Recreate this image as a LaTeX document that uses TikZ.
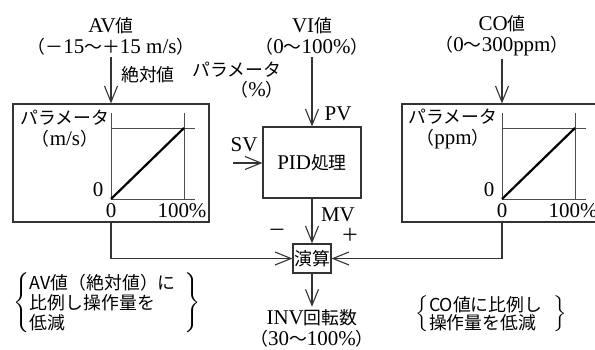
\documentclass[tikz,border=0pt]{standalone}
\usepackage{fontspec}
\setmainfont{Liberation Serif}[Scale=1.14]
\newfontfamily\jpfont{Noto Sans CJK JP}[Scale=0.97]
\newcommand{\jp}[1]{{\jpfont #1}}
\usetikzlibrary{arrows.meta,calc}
\tikzstyle{blk}=[draw=black!80,line width=0.55pt,inner sep=0pt]
\tikzstyle{lbl}=[inner sep=1pt,align=center]
\tikzstyle{sig}=[draw=black!80,line width=0.55pt,-{Straight Barb[length=8pt,width=6.5pt]}]
\tikzstyle{ax}=[draw=black!70,line width=0.5pt]

\begin{document}
\begin{tikzpicture}[x=0.5pt,y=-0.5pt,font=\fontsize{9.2}{10.5}\selectfont]
    \useasboundingbox (0,0) rectangle (595,349);
    % inputs
    \node [lbl] (av) at (111,36) {AV\jp{値}\\\jp{（－}15\jp{〜＋}15 m/s\jp{）}};
    \node [lbl] (vi) at (312,36) {VI\jp{値}\\\jp{（}0\jp{〜}100\%\jp{）}};
    \node [lbl] (co) at (502,36) {CO\jp{値}\\\jp{（}0\jp{〜}300ppm\jp{）}};
    % blocks
    \node [blk, minimum width=98pt, minimum height=59pt] (avbox) at (111,163) {};
    \node [blk, minimum width=98pt, minimum height=59pt] (cobox) at (500,163) {};
    \node [blk, minimum width=49pt, minimum height=35.5pt] (pid) at (312,162.5) {PID\jp{処理}};
    \node [blk, minimum width=19pt, minimum height=14.5pt] (calc) at (312,258.5) {\jp{演算}};
    \node [lbl] (inv) at (312,328) {INV\jp{回転数}\\\jp{（}30\jp{〜}100\%\jp{）}};
    % graphs
    \foreach \ox in {111,502} {
        \draw[ax] (\ox,113) -- (\ox,199) -- (\ox+84,199);
        \draw[ax] (\ox,128) -- (\ox+84,128);
        \draw[ax] (\ox+73,113) -- (\ox+73,199);
        \draw[line width=1.1pt] (\ox,199) -- (\ox+73,128);
        \node [lbl] at (\ox-13,190) {0};
        \node [lbl] at (\ox,211) {0};
        \node [lbl] at (\ox+71,211) {100\%};
    }
    \node [lbl] (avpar) at (65,129) {\jp{パラメータ}\\\jp{（}m/s\jp{）}};
    \node [lbl] (copar) at (453,129) {\jp{パラメータ}\\\jp{（}ppm\jp{）}};
    % labels
    \node [lbl] (abs) at (148,75) {\jp{絶対値}};
    \node [lbl] (par1) at (237,70) {\jp{パラメータ}};
    \node [lbl] (par2) at (257,90) {\jp{（}\%\jp{）}};
    \node [lbl] (pv) at (338,114) {PV};
    \node [lbl] (sv) at (244,145) {SV};
    \node [lbl] (mv) at (338,215) {MV};
    \node [lbl] (minus) at (277,233) {\jp{－}};
    \node [lbl] (plus) at (350,235) {\jp{＋}};
    \coordinate (svin) at (233,163);
    % notes
    \node [inner sep=0pt] (note1) at (107,303) {$\left\{\parbox[c]{77pt}{\fontsize{9.2}{10}\selectfont\jp{AV値（絶対値）に}\\\jp{比例し操作量を}\\\jp{低減}}\right\}$};
    \node [inner sep=0pt] (note2) at (491,314) {$\left\{\parbox[c]{62pt}{\fontsize{9.2}{9.2}\selectfont\jp{CO値に比例し}\\\jp{操作量を低減}}\right\}$};
    % connections
    \draw[sig] (av) -- (avbox);
    \draw[sig] (vi) -- (pid);
    \draw[sig] (co.south) -- (co.south |- cobox.north);
    \draw[sig] (svin) -- (svin -| pid.west);
    \draw[sig] (pid) -- (calc);
    \draw[sig] (avbox.south) |- (calc.west);
    \draw[sig] (co.south |- cobox.south) |- (calc.east);
    \draw[sig] (calc) -- (inv);
\end{tikzpicture}
\end{document}
